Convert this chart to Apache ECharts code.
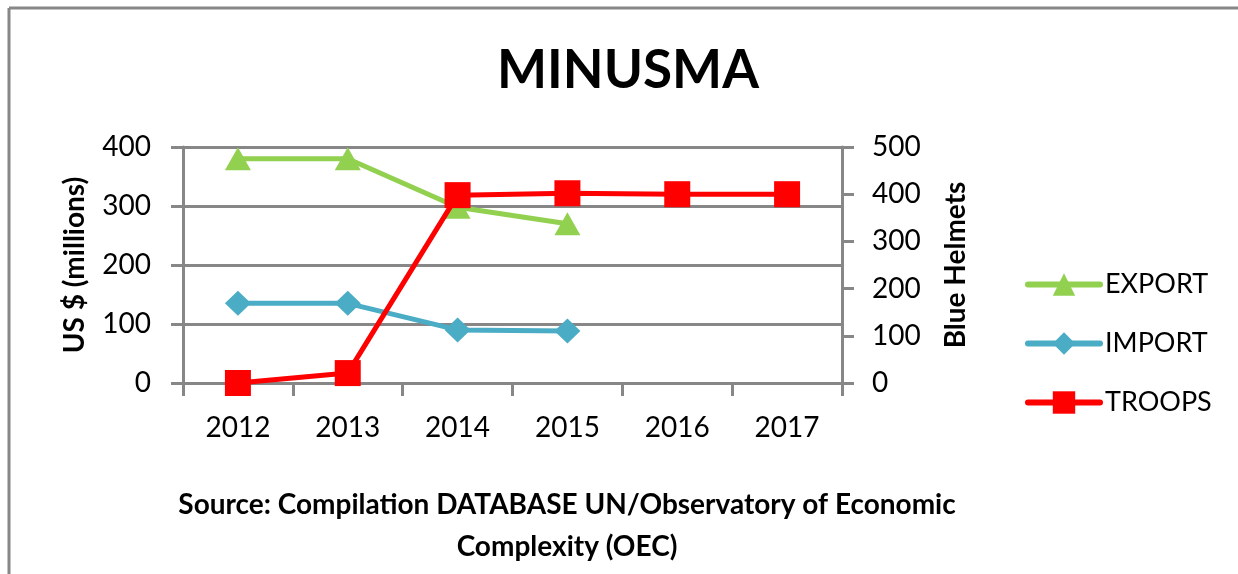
<!DOCTYPE html>
<html>
<head>
<meta charset="utf-8">
<script src="https://cdn.jsdelivr.net/npm/echarts@6/dist/echarts.min.js"></script>
<style>
  html, body { margin: 0; padding: 0; background: #fff; }
  #main { width: 1238px; height: 574px; }
</style>
</head>
<body>
<div id="main"></div>
<script>
// data
var years = ['2012', '2013', '2014', '2015', '2016', '2017'];
var exportVals = [380, 380, 298, 270, null, null];
var importVals = [135, 135, 90, 88, null, null];
var troopsVals = [0, 21, 398, 402, 400, 400];
var leftTicks = [0, 400, 100];   // min, max, interval (US $ millions)
var rightTicks = [0, 500, 100];  // min, max, interval (Blue Helmets)

var FONT = 'Lato';
var gray = '#878787';

var chart = echarts.init(document.getElementById('main'));
chart.setOption({
  backgroundColor: '#fff',
  textStyle: { fontFamily: FONT, color: '#000' },
  title: [
    {
      text: 'MINUSMA',
      left: 623, top: 39, textAlign: 'center',
      textStyle: { fontFamily: FONT, fontSize: 53, fontWeight: 'bold', color: '#000' }
    },
    {
      text: 'Source: Compilation DATABASE UN/Observatory of Economic\nComplexity (OEC)',
      left: 562, top: 479, textAlign: 'center',
      textStyle: { fontFamily: FONT, fontSize: 28, fontWeight: 'bold', color: '#000', lineHeight: 42 }
    }
  ],
  graphic: [
    { type: 'line', shape: { x1: 9, y1: 8, x2: 1238, y2: 8 }, style: { stroke: gray, lineWidth: 3 } },
    { type: 'line', shape: { x1: 9, y1: 8, x2: 9, y2: 574 }, style: { stroke: gray, lineWidth: 3 } }
  ],
  legend: {
    orient: 'vertical',
    left: 1020, top: 266,
    itemGap: 32,
    itemWidth: 72, itemHeight: 28,
    lineStyle: { width: 6, cap: 'round' },
    textStyle: { fontFamily: FONT, fontSize: 27, color: '#000' },
    data: ['EXPORT', 'IMPORT', 'TROOPS']
  },
  grid: { left: 183, right: 396, top: 147, bottom: 191 },
  xAxis: {
    type: 'category',
    data: years,
    boundaryGap: true,
    axisLine: { lineStyle: { color: gray, width: 3 } },
    axisTick: { show: true, length: 13, lineStyle: { color: gray, width: 3 } },
    axisLabel: { fontFamily: FONT, fontSize: 28, color: '#000', margin: 31 }
  },
  yAxis: [
    {
      type: 'value',
      min: leftTicks[0], max: leftTicks[1], interval: leftTicks[2],
      name: 'US $ (millions)',
      nameLocation: 'middle', nameRotate: 90, nameGap: 94,
      nameTextStyle: { fontFamily: FONT, fontSize: 28, fontWeight: 'bold', color: '#000' },
      axisLine: { show: true, lineStyle: { color: gray, width: 3 } },
      axisTick: { show: true, length: 12, lineStyle: { color: gray, width: 3 } },
      axisLabel: { fontFamily: FONT, fontSize: 28, color: '#000', margin: 32 },
      splitLine: { show: true, lineStyle: { color: gray, width: 3 } }
    },
    {
      type: 'value',
      min: rightTicks[0], max: rightTicks[1], interval: rightTicks[2],
      name: 'Blue Helmets',
      nameLocation: 'middle', nameRotate: 90, nameGap: 100,
      nameTextStyle: { fontFamily: FONT, fontSize: 28, fontWeight: 'bold', color: '#000' },
      axisLine: { show: true, lineStyle: { color: gray, width: 3 } },
      axisTick: { show: true, length: 12, lineStyle: { color: gray, width: 3 } },
      axisLabel: { fontFamily: FONT, fontSize: 28, color: '#000', margin: 30 },
      splitLine: { show: false }
    }
  ],
  series: [
    {
      name: 'EXPORT', type: 'line', yAxisIndex: 0,
      data: exportVals,
      symbol: 'triangle', symbolSize: [26, 23],
      lineStyle: { color: '#92d050', width: 5 },
      itemStyle: { color: '#92d050' },
      z: 2
    },
    {
      name: 'IMPORT', type: 'line', yAxisIndex: 0,
      data: importVals,
      symbol: 'diamond', symbolSize: [26, 25],
      lineStyle: { color: '#4bacc6', width: 5 },
      itemStyle: { color: '#4bacc6' },
      z: 3
    },
    {
      name: 'TROOPS', type: 'line', yAxisIndex: 1,
      data: troopsVals,
      symbol: 'rect', symbolSize: 26,
      lineStyle: { color: '#ff0000', width: 5 },
      itemStyle: { color: '#ff0000' },
      z: 4
    }
  ]
});
</script>
</body>
</html>
